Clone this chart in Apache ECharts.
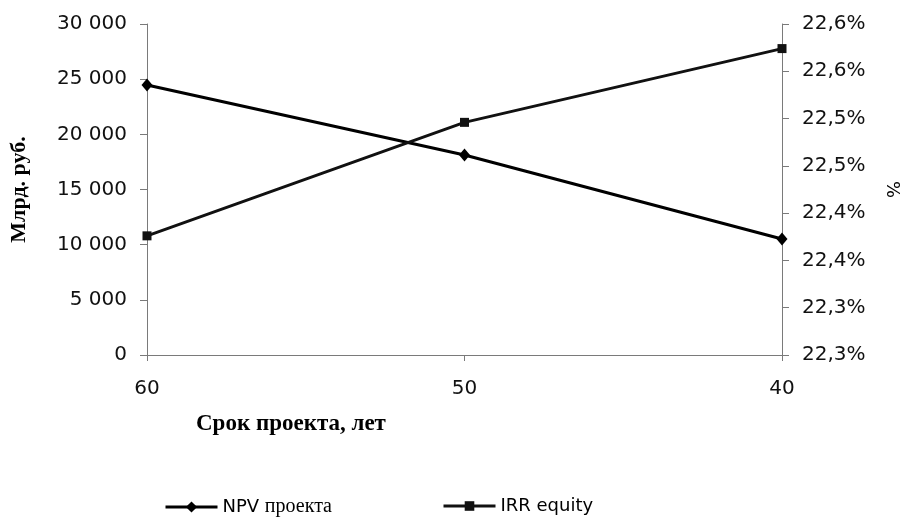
<!DOCTYPE html>
<html>
<head>
<meta charset="utf-8">
<script src="https://cdn.jsdelivr.net/npm/echarts@6/dist/echarts.min.js"></script>
<style>html,body{margin:0;padding:0;background:#fff}#c{width:909px;height:519px}</style>
</head>
<body>
<div id="c"></div>
<script>
var categories = ['60', '50', '40'];
var npvValues = [24470, 18130, 10510];
var irrValues = [22.376, 22.496, 22.574];
var seriesNames = ['NPV проекта', 'IRR equity'];
var leftTitle = 'Млрд. руб.';
var rightTitle = '%';
var xTitle = 'Срок проекта, лет';

var sans = 'DejaVu Sans';
var serif = 'Liberation Serif';
var chart = echarts.init(document.getElementById('c'));
function thousands(v) {
  return String(v).replace(/\B(?=(\d{3})+(?!\d))/g, ' ');
}
function pct(v) {
  return (Math.round(v * 10 + 1e-6) / 10).toFixed(1).replace('.', ',') + '%';
}
var axisLineStyle = {color: '#7a7a7a', width: 1};
chart.setOption({
  animation: false,
  backgroundColor: '#fff',
  grid: {left: 147, right: 127, top: 24, bottom: 164, containLabel: false, outerBoundsMode: 'none'},
  title: {
    text: xTitle, left: 196, top: 413, padding: 0,
    textStyle: {fontFamily: serif, fontWeight: 'bold', fontSize: 23, color: '#000'}
  },
  legend: [
    {
      data: [seriesNames[0]], left: 164, top: 497, padding: 0, itemWidth: 52, itemHeight: 14, itemGap: 3,
      lineStyle: {width: 3},
      formatter: function () { return 'NPV {s|проекта}'; },
      textStyle: {fontFamily: sans, fontSize: 18, color: '#000',
        rich: {s: {fontFamily: serif, fontSize: 20, color: '#000'}}}
    },
    {
      data: [seriesNames[1]], left: 442, top: 497, padding: 0, itemWidth: 52, itemHeight: 12, itemGap: 3,
      lineStyle: {width: 3},
      textStyle: {fontFamily: sans, fontSize: 18, color: '#000'}
    }
  ],
  xAxis: {
    type: 'category', data: categories, boundaryGap: false,
    axisLine: {lineStyle: axisLineStyle},
    axisTick: {show: true, length: 6, lineStyle: axisLineStyle},
    axisLabel: {fontFamily: sans, fontSize: 20, color: '#111', margin: 24},
    splitLine: {show: false}
  },
  yAxis: [
    {
      type: 'value', min: 0, max: 30000, interval: 5000, position: 'left',
      name: leftTitle, nameLocation: 'middle', nameGap: 117,
      nameTextStyle: {fontFamily: serif, fontWeight: 'bold', fontSize: 22, color: '#000'},
      axisLine: {show: true, lineStyle: axisLineStyle},
      axisTick: {show: true, length: 7, lineStyle: axisLineStyle},
      axisLabel: {fontFamily: sans, fontSize: 20, color: '#111', margin: 20, formatter: thousands},
      splitLine: {show: false}
    },
    {
      type: 'value', min: 22.25, max: 22.6, interval: 0.05, position: 'right',
      name: rightTitle, nameLocation: 'middle', nameGap: 101, nameRotate: -90,
      nameTextStyle: {fontFamily: sans, fontSize: 18, color: '#000'},
      axisLine: {show: true, lineStyle: axisLineStyle},
      axisTick: {show: true, length: 7, lineStyle: axisLineStyle},
      axisLabel: {fontFamily: sans, fontSize: 20, color: '#111', margin: 20, formatter: pct},
      splitLine: {show: false}
    }
  ],
  series: [
    {
      name: seriesNames[0], type: 'line', yAxisIndex: 0, data: npvValues,
      symbol: 'diamond', symbolSize: [11, 13], showAllSymbol: true,
      lineStyle: {color: '#000', width: 3},
      itemStyle: {color: '#000', borderWidth: 0}
    },
    {
      name: seriesNames[1], type: 'line', yAxisIndex: 1, data: irrValues,
      symbol: 'rect', symbolSize: 9, showAllSymbol: true,
      lineStyle: {color: '#111', width: 3},
      itemStyle: {color: '#111', borderWidth: 0}
    }
  ]
});
</script>
</body>
</html>
